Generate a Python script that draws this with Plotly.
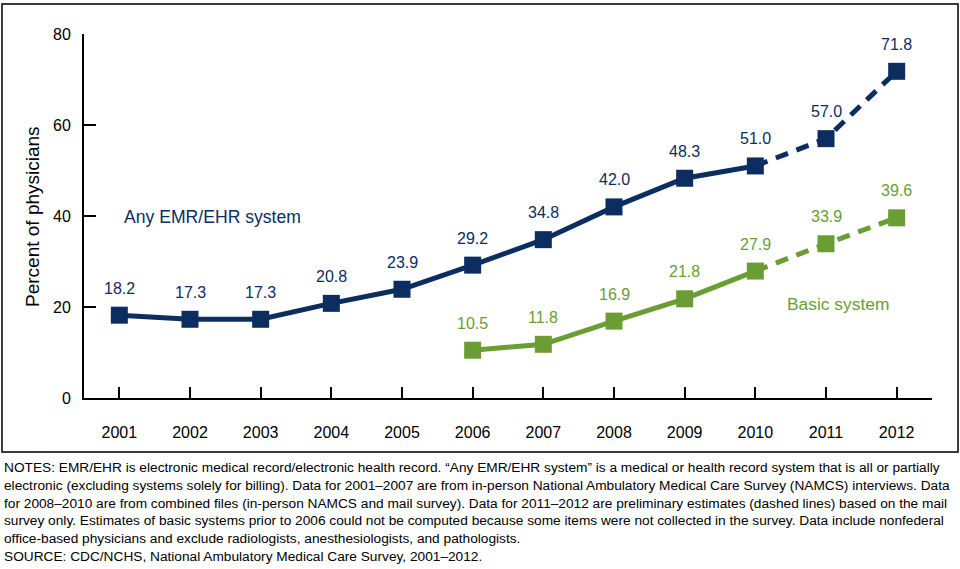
import plotly.graph_objects as go

years = [2001, 2002, 2003, 2004, 2005, 2006, 2007, 2008, 2009, 2010, 2011, 2012]
any_emr = [18.2, 17.3, 17.3, 20.8, 23.9, 29.2, 34.8, 42.0, 48.3, 51.0, 57.0, 71.8]
basic_years = [2006, 2007, 2008, 2009, 2010, 2011, 2012]
basic = [10.5, 11.8, 16.9, 21.8, 27.9, 33.9, 39.6]
prelim_start = 2010  # 2011-2012 preliminary (dashed)
y_ticks = [0, 20, 40, 60, 80]

NAVY = "#0b2d5f"
GREEN = "#6a9e34"
FONT = "Liberation Sans, Arial, sans-serif"

notes = (
    "NOTES: EMR/EHR is electronic medical record/electronic health record. “Any EMR/EHR system” is a medical or health record system that is all or partially<br>"
    "electronic (excluding systems solely for billing). Data for 2001–2007 are from in-person National Ambulatory Medical Care Survey (NAMCS) interviews. Data<br>"
    "for 2008–2010 are from combined files (in-person NAMCS and mail survey). Data for 2011–2012 are preliminary estimates (dashed lines) based on the mail<br>"
    "survey only. Estimates of basic systems prior to 2006 could not be computed because some items were not collected in the survey. Data include nonfederal<br>"
    "office-based physicians and exclude radiologists, anesthesiologists, and pathologists.<br>"
    "SOURCE: CDC/NCHS, National Ambulatory Medical Care Survey, 2001–2012."
)

fig = go.Figure()


def add_series(xs, ys, color):
    solid_x = [x for x in xs if x <= prelim_start]
    solid_y = [y for x, y in zip(xs, ys) if x <= prelim_start]
    dash_x = [x for x in xs if x >= prelim_start]
    dash_y = [y for x, y in zip(xs, ys) if x >= prelim_start]
    fig.add_trace(go.Scatter(x=solid_x, y=solid_y, mode="lines",
                             line=dict(color=color, width=5), hoverinfo="skip"))
    fig.add_trace(go.Scatter(x=dash_x, y=dash_y, mode="lines",
                             line=dict(color=color, width=5, dash="13px,9px"), hoverinfo="skip"))
    fig.add_trace(go.Scatter(x=xs, y=ys, mode="markers",
                             marker=dict(symbol="square", size=17, color=color)))
    for x, y in zip(xs, ys):
        fig.add_annotation(x=x, y=y, text=f"{y:.1f}", yshift=27, showarrow=False,
                           xanchor="center", yanchor="middle",
                           font=dict(family=FONT, size=16, color=color))


add_series(years, any_emr, NAVY)
add_series(basic_years, basic, GREEN)

# plot area geometry (pixels) for placing paper-referenced items
L, R, T, B = 84, 932, 34, 398
W, H = R - L, B - T


def px(x):
    return (x - L) / W


def py(y):
    return (B - y) / H


fig.add_annotation(text="Any EMR/EHR system", x=px(122), y=py(217), xref="paper", yref="paper",
                   xanchor="left", yanchor="middle", showarrow=False,
                   font=dict(family=FONT, size=17.6, color=NAVY))
fig.add_annotation(text="Basic system", x=px(838), y=py(304), xref="paper", yref="paper",
                   xanchor="center", yanchor="middle", showarrow=False,
                   font=dict(family=FONT, size=17.4, color=GREEN))
fig.add_annotation(text="Percent of physicians", x=px(32), y=py(217), xref="paper", yref="paper",
                   xanchor="center", yanchor="middle", textangle=-90, showarrow=False,
                   font=dict(family=FONT, size=19, color="#000"))
fig.add_annotation(text=notes, x=px(2), y=py(458), xref="paper", yref="paper",
                   xanchor="left", yanchor="top", align="left", showarrow=False,
                   font=dict(family="Liberation Sans Narrow, Arial Narrow, Liberation Sans, sans-serif",
                             size=13.7, color="#000"))
fig.add_shape(type="rect", xref="paper", yref="paper",
              x0=px(2), x1=px(958), y0=py(452), y1=py(4),
              line=dict(color="#3c3c3c", width=2), fillcolor="rgba(0,0,0,0)", layer="below")

fig.update_layout(
    width=960, height=569,
    margin=dict(l=L, r=960 - R, t=T, b=569 - B),
    paper_bgcolor="white", plot_bgcolor="white",
    showlegend=False,
    font=dict(family=FONT, size=16, color="#000"),
)
fig.update_xaxes(range=[2000.5, 2012.5], tickvals=years, ticktext=[str(y) for y in years],
                 showline=True, linecolor="#000", linewidth=2,
                 ticks="inside", ticklen=11, tickwidth=2, tickcolor="#000",
                 ticklabelstandoff=19, showgrid=False, zeroline=False,
                 tickfont=dict(family=FONT, size=16))
fig.update_yaxes(range=[0, 80], tickvals=y_ticks,
                 showline=True, linecolor="#000", linewidth=2,
                 ticks="inside", ticklen=12, tickwidth=2, tickcolor="#000",
                 ticklabelstandoff=8, showgrid=False, zeroline=False,
                 tickfont=dict(family=FONT, size=16))

fig.write_html("out.html", config={"displayModeBar": False},
               post_script="document.body.style.margin='0';document.body.style.overflow='hidden';")
